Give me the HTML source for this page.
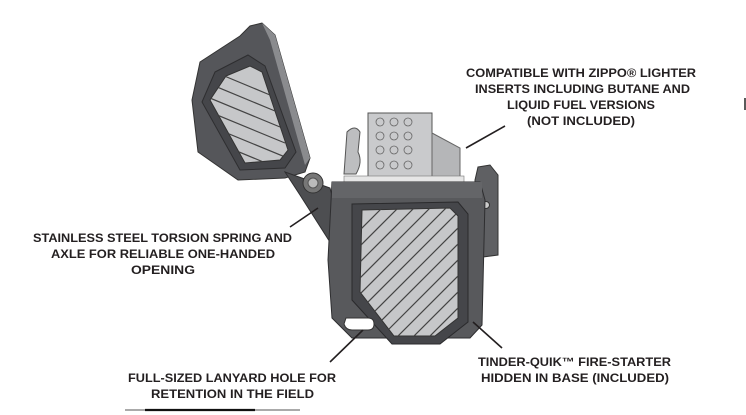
<!DOCTYPE html>
<html><head><meta charset="utf-8"><style>
html,body{margin:0;padding:0;background:#fff;}
svg{display:block}
text{font-family:"Liberation Sans",sans-serif;font-weight:bold;font-size:12px;fill:#231f20}
</style></head><body>
<svg width="746" height="415" viewBox="0 0 746 415" xmlns="http://www.w3.org/2000/svg">
<defs>
<clipPath id="lp"><polygon points="226,76 250,66 262,72 288,150 280,160 245,163 210,100"/></clipPath>
<clipPath id="bp"><polygon points="362,210 450,208 458,216 458,318 435,336 394,336 360,292"/></clipPath>
</defs>
<!-- lid -->
<polygon points="200,62 240,36 250,26 262,23 275,35 310,158 305,172 285,178 238,180 198,152 192,100" fill="#55565a" stroke="#333" stroke-width="1"/>
<polygon points="262,23 275,35 310,158 305,165 270,40" fill="#8a8b8e"/>
<polygon points="215,72 248,55 265,66 296,152 285,168 240,170 202,102" fill="#45464a" stroke="#2e2e30"/>
<polygon points="226,76 250,66 262,72 288,150 280,160 245,163 210,100" fill="#c6c7c9" stroke="#333"/>
<g clip-path="url(#lp)" stroke="#444" stroke-width="1.2" fill="none">
<path d="M210,70 l60,25 M205,82 l70,29 M205,96 l75,31 M205,110 l80,33 M205,124 l85,35 M210,140 l80,33 M215,155 l70,29"/>
</g>
<!-- hinge arm -->
<polygon points="285,172 330,188 345,245 335,250 300,195" fill="#4d4e51" stroke="#2e2e30"/>
<circle cx="313" cy="183" r="10" fill="#777" stroke="#333"/>
<circle cx="313" cy="183" r="5" fill="#bbb" stroke="#555"/>
<!-- insert -->
<rect x="368" y="113" width="64" height="67" fill="#c9cacc" stroke="#555"/>
<polygon points="432,133 460,148 460,180 432,180" fill="#b5b6b8" stroke="#666"/>
<g fill="none" stroke="#666" stroke-width="0.8">
<circle cx="380" cy="122" r="4"/><circle cx="394" cy="122" r="4"/><circle cx="408" cy="122" r="4"/>
<circle cx="380" cy="136" r="4"/><circle cx="394" cy="136" r="4"/><circle cx="408" cy="136" r="4"/>
<circle cx="380" cy="150" r="4"/><circle cx="394" cy="150" r="4"/><circle cx="408" cy="150" r="4"/>
<circle cx="380" cy="165" r="4"/><circle cx="394" cy="165" r="4"/><circle cx="408" cy="165" r="4"/>
</g>
<path d="M347,132 q8,-8 13,0 l-2,20 q5,10 -2,22 l-12,0 z" fill="#bdbec0" stroke="#555"/>
<rect x="344" y="176" width="120" height="6" fill="#e6e6e6" stroke="#777" stroke-width="0.6"/>
<!-- right clip -->
<polygon points="478,167 490,165 498,175 498,255 475,258 475,180" fill="#5f6063" stroke="#333"/>
<circle cx="486" cy="205" r="3.5" fill="#ccc" stroke="#333"/>
<!-- body -->
<path d="M332,182 L480,182 L485,200 L482,325 L470,338 L352,338 L332,318 L328,260 Z" fill="#58595c" stroke="#2e2e30"/>
<rect x="332" y="182" width="150" height="16" fill="#646568"/>
<polygon points="352,204 458,202 468,214 468,322 440,344 392,344 352,300" fill="#45464a" stroke="#2a2a2c"/>
<polygon points="362,210 450,208 458,216 458,318 435,336 394,336 360,292" fill="#c6c7c9" stroke="#333"/>
<g clip-path="url(#bp)" stroke="#444" stroke-width="1.2" fill="none">
<path d="M350,240 l40,-40 M350,256 l56,-56 M350,272 l72,-72 M350,288 l88,-88 M350,304 l104,-104 M358,312 l104,-104 M366,320 l104,-104 M374,328 l104,-104 M382,336 l104,-104 M390,344 l104,-104 M398,352 l104,-104 M406,360 l104,-104 M414,368 l104,-104 M422,376 l104,-104 M430,384 l104,-104"/>
</g>
<path d="M346,318 l22,0 q6,0 6,6 q0,6 -6,6 l-16,0 q-6,0 -8,-6 z" fill="#fff" stroke="#333"/>
<!-- leaders -->
<g stroke="#231f20" stroke-width="1.6">
<line x1="466" y1="148" x2="505" y2="126"/>
<line x1="290" y1="227" x2="318" y2="208"/>
<line x1="330" y1="362" x2="363" y2="330"/>
<line x1="473" y1="322" x2="502" y2="348"/>
</g>
<line x1="125" y1="410" x2="300" y2="410" stroke="#555" stroke-width="1"/>
<line x1="145" y1="410" x2="255" y2="410" stroke="#111" stroke-width="2.2"/>
<line x1="745" y1="98" x2="745" y2="110" stroke="#222" stroke-width="1.5"/>
<!-- text -->
<text x="466" y="77" textLength="230" lengthAdjust="spacingAndGlyphs">COMPATIBLE WITH ZIPPO® LIGHTER</text>
<text x="475" y="93" textLength="215" lengthAdjust="spacingAndGlyphs">INSERTS INCLUDING BUTANE AND</text>
<text x="507" y="109" textLength="148" lengthAdjust="spacingAndGlyphs">LIQUID FUEL VERSIONS</text>
<text x="527" y="125" textLength="108" lengthAdjust="spacingAndGlyphs">(NOT INCLUDED)</text>
<text x="33" y="242" textLength="259" lengthAdjust="spacingAndGlyphs">STAINLESS STEEL TORSION SPRING AND</text>
<text x="51" y="258" textLength="224" lengthAdjust="spacingAndGlyphs">AXLE FOR RELIABLE ONE-HANDED</text>
<text x="131" y="274" textLength="64" lengthAdjust="spacingAndGlyphs">OPENING</text>
<text x="128" y="382" textLength="208" lengthAdjust="spacingAndGlyphs">FULL-SIZED LANYARD HOLE FOR</text>
<text x="151" y="398" textLength="163" lengthAdjust="spacingAndGlyphs">RETENTION IN THE FIELD</text>
<text x="478" y="366" textLength="193" lengthAdjust="spacingAndGlyphs">TINDER-QUIK™ FIRE-STARTER</text>
<text x="481" y="382" textLength="188" lengthAdjust="spacingAndGlyphs">HIDDEN IN BASE (INCLUDED)</text>
</svg>
</body></html>
